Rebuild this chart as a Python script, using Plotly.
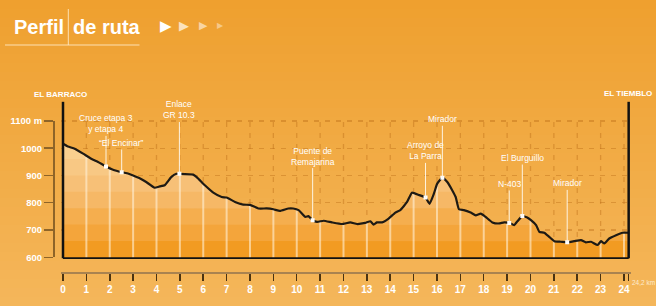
import numpy as np
import plotly.graph_objects as go

# ---------------- data ----------------
km = [0, 0.21, 0.5, 0.86, 1.21, 1.5, 1.84, 2.14, 2.51, 2.78, 3.0, 3.28, 3.56, 3.92, 4.14, 4.35,
      4.63, 4.85, 4.98, 5.57, 5.72, 6.07, 6.43, 6.79, 7.0, 7.36, 7.71, 8.0, 8.36, 8.71, 9.0,
      9.28, 9.64, 9.85, 10.08, 10.37, 10.5, 10.68, 10.87, 11.15, 11.5, 11.94, 12.29, 12.58,
      12.93, 13.15, 13.29, 13.43, 13.65, 13.93, 14.22, 14.43, 14.72, 14.93, 15.24, 15.51,
      15.68, 15.87, 16.01, 16.23, 16.44, 16.65, 16.8, 16.94, 17.15, 17.44, 17.66, 17.87,
      18.08, 18.37, 18.65, 18.87, 19.09, 19.3, 19.44, 19.65, 19.86, 20.02, 20.24, 20.38,
      20.59, 20.8, 21.02, 21.3, 21.57, 21.87, 22.16, 22.37, 22.59, 22.87, 23.02, 23.16,
      23.37, 23.66, 23.94, 24.2]
elev = [1016, 1006, 998, 980, 961, 949, 933, 921, 912, 907, 900, 890, 876, 855, 860, 864,
        894, 906, 906, 903, 894, 864, 837, 821, 819, 803, 793, 792, 779, 779, 776,
        770, 779, 779, 773, 748, 751, 736, 730, 734, 728, 722, 728, 722,
        726, 732, 720, 728, 728, 742, 764, 773, 803, 837, 828, 819,
        796, 834, 870, 892, 876, 846, 821, 776, 773, 764, 754, 760,
        748, 728, 724, 728, 726, 718, 732, 751, 746, 736, 718, 693,
        690, 675, 659, 657, 655, 659, 663, 655, 657, 645, 659, 651,
        669, 681, 690, 690]

label_text = ["Cruce etapa 3<br>y etapa 4", "“El Encinar”", "Enlace<br>GR 10.3",
              "Puente de<br>Remajarina", "Arroyo de<br>La Parra", "Mirador",
              "N-403", "El Burguillo", "Mirador"]
label_km = [1.84, 2.51, 4.98, 10.68, 15.51, 16.23, 19.09, 19.65, 21.57]
label_top = [1089, 1019, 1140, 971, 990, 1106, 869, 964, 871]

x_ticks = list(range(0, 25))
total_km = 24.2
total_label = "24,2 km"
y_ticks = [600, 700, 800, 900, 1000, 1100]
y_tick_text = ["600", "700", "800", "900", "1000", "1100 m"]
grid_levels = [700, 800, 900, 1000, 1100]

start_name = "EL BARRACO"
end_name = "EL TIEMBLO"

band_levels = [None, 960, 900, 840, 780, 720, 660]
band_colors = ["#F9CF8E", "#F8C884", "#F7C077", "#F6B866", "#F5AE4E", "#F4A53B", "#F29B22"]

# ---------------- layout geometry (pixels) ----------------
WF, HF = 656, 306
L, R, T, B = 53, 25, 100, 34
PW, PH = WF - L - R, HF - T - B


def fx(px):
    return (px - L) / PW


def fy(py):
    return (HF - B - py) / PH


X0PX, PPK = 63.0, 23.375
Y600PX, PPM = 257.3, 0.2728
xr = [-0.1, 24.3]
yr = [594, 1172]

km_a = np.array(km, dtype=float)
el_a = np.array(elev, dtype=float)

FONT = "Liberation Sans, Arial, sans-serif"
BOTTOM = 596.3

fig = go.Figure()

# dashed vertical grid (drawn under the fills)
gx, gy = [], []
for k in x_ticks[1:]:
    gx += [k, k, None]
    gy += [yr[0], 1100, None]
fig.add_trace(go.Scatter(x=gx, y=gy, mode="lines", hoverinfo="skip",
                         line=dict(color="rgba(185,105,20,0.4)", width=1.3, dash="5px,6px")))

# banded fills
for lev, col in zip(band_levels, band_colors):
    yy = el_a if lev is None else np.minimum(el_a, lev)
    fig.add_trace(go.Scatter(x=km_a, y=yy, mode="lines", fill="tozeroy", fillcolor=col,
                             line=dict(width=0, color=col), hoverinfo="skip"))

# white vertical lines under the profile
wx, wy = [], []
for k in x_ticks[1:]:
    wx += [k, k, None]
    wy += [BOTTOM, float(np.interp(k, km_a, el_a)), None]
fig.add_trace(go.Scatter(x=wx, y=wy, mode="lines", hoverinfo="skip",
                         line=dict(color="rgba(255,240,215,0.6)", width=2)))

# profile line
fig.add_trace(go.Scatter(x=km_a, y=el_a, mode="lines", hoverinfo="skip",
                         line=dict(color="#1E1A14", width=2.2, shape="spline", smoothing=0.4)))

# point markers
mk_y = np.interp(label_km, km_a, el_a)
fig.add_trace(go.Scatter(x=label_km, y=mk_y, mode="markers", hoverinfo="skip",
                         marker=dict(symbol="square", size=4, color="white")))

# dummy trace for the tick axis
fig.add_trace(go.Scatter(x=[0, 0], y=[600, 1100], mode="lines", yaxis="y2",
                         line=dict(width=0), hoverinfo="skip"))

shapes = []
# background gradient
top_c = np.array([0xEF, 0xA0, 0x2F])
bot_c = np.array([0xF5, 0xB7, 0x5B])
N = 34
for i in range(N):
    p0 = HF * i / N
    p1 = HF * (i + 1) / N + 1
    c = top_c + (bot_c - top_c) * (i + 0.5) / N
    shapes.append(dict(type="rect", xref="paper", yref="paper", x0=fx(-2), x1=fx(WF + 2),
                       y0=fy(p1), y1=fy(p0), line=dict(width=0),
                       fillcolor="rgb(%d,%d,%d)" % tuple(c.astype(int)), layer="below"))

# frame lines
shapes.append(dict(type="line", xref="x", yref="y", x0=0, x1=total_km, y0=BOTTOM, y1=BOTTOM,
                   line=dict(color="#111", width=2)))
for xv in [0, total_km]:
    shapes.append(dict(type="line", xref="x", yref="y", x0=xv, x1=xv, y0=BOTTOM, y1=1170,
                       line=dict(color="#111", width=2.5)))

# title decorations
shapes.append(dict(type="line", xref="paper", yref="paper", x0=fx(68.3), x1=fx(68.3),
                   y0=fy(45), y1=fy(9), line=dict(color="rgba(255,235,200,0.85)", width=1)))
shapes.append(dict(type="line", xref="paper", yref="paper", x0=fx(5), x1=fx(139.5),
                   y0=fy(45), y1=fy(45), line=dict(color="rgba(255,235,200,0.85)", width=1)))

annotations = []
for t, k, top in zip(label_text, label_km, label_top):
    annotations.append(dict(x=k, y=float(np.interp(k, km_a, el_a)), xref="x", yref="y",
                            text=t, showarrow=True, arrowhead=0, arrowwidth=1,
                            arrowcolor="rgba(255,248,235,0.95)", ax=k, ay=top,
                            axref="x", ayref="y", xanchor="center", yanchor="middle", standoff=0,
                            font=dict(family=FONT, size=8.5, color="white")))


def paper_text(px, py, text, size, weight="normal", color="white", xanchor="center", family=FONT):
    return dict(x=fx(px), y=fy(py), xref="paper", yref="paper", text=text, showarrow=False,
                xanchor=xanchor, yanchor="middle",
                font=dict(family=family, size=size, color=color, weight=weight))


annotations.append(paper_text(60, 94.3, start_name, 8, "bold"))
annotations.append(paper_text(628.3, 93.3, end_name, 8, "bold"))
annotations.append(dict(x=total_km, y=fy(282), xref="x", yref="paper", text=total_label,
                        xanchor="left", yanchor="middle", xshift=1, showarrow=False,
                        font=dict(family=FONT, size=6.5, color="#FDEBD0")))

annotations.append(paper_text(66, 27, "Perfil", 20, "bold", xanchor="right"))
annotations.append(paper_text(71, 27, "de ruta", 20, "bold", xanchor="left"))
for cx, sz, col in [(166, 15, "#FFFFFF"), (183.5, 13, "#FBE2BE"), (203, 11, "#F8D4A2"), (220, 8, "#F6C888")]:
    annotations.append(paper_text(cx, 26, "▶", sz, color=col, family="DejaVu Sans"))

fig.update_layout(
    width=WF, height=HF, margin=dict(l=L, r=R, t=T, b=B, pad=0, autoexpand=False),
    paper_bgcolor="#F2AB45", plot_bgcolor="rgba(0,0,0,0)",
    showlegend=False, shapes=shapes, annotations=annotations,
    xaxis=dict(domain=[fx(X0PX + xr[0] * PPK), 1], range=xr, anchor="free", position=0,
               automargin=False,
               showgrid=False, zeroline=False, showline=True, linecolor="#A98350", linewidth=1.5,
               ticks="outside", ticklen=7, tickwidth=1.5, tickcolor="#4A3312",
               tickvals=x_ticks + [total_km], ticktext=[str(v) for v in x_ticks] + [""],
               tickfont=dict(family=FONT, size=10, color="white", weight="bold")),
    yaxis=dict(domain=[fy(Y600PX - (yr[0] - 600) * PPM), fy(Y600PX - (yr[1] - 600) * PPM)],
               range=yr, tickvals=grid_levels, showticklabels=False, ticks="", automargin=False,
               showgrid=True, gridcolor="rgba(185,105,20,0.4)", gridwidth=1.3, griddash="5px,6px",
               zeroline=False, showline=False),
    yaxis2=dict(domain=[fy(Y600PX), fy(Y600PX - 500 * PPM)], range=[600, 1100], anchor="free",
                position=0, automargin=False,
                showgrid=False, zeroline=False, showline=True, linecolor="#8E6428",
                linewidth=1.5, ticks="outside", ticklen=9, tickwidth=1.5, tickcolor="#8E6428",
                tickvals=y_ticks, ticktext=y_tick_text,
                tickfont=dict(family=FONT, size=9.5, color="white", weight="bold")),
)

fig.write_html("out.html", config={"displayModeBar": False, "staticPlot": True},
               post_script="document.body.style.margin='0';document.body.style.padding='0';"
                           "document.body.style.overflow='hidden';")
